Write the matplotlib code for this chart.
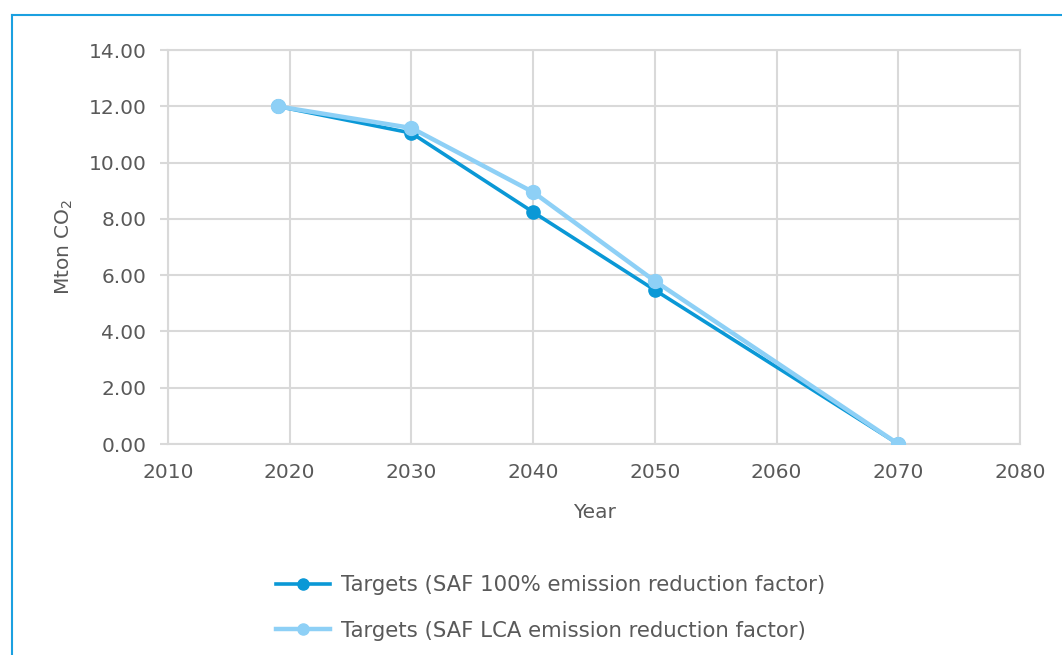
import matplotlib.pyplot as plt
from matplotlib.lines import Line2D

# Dados
anos = [2019, 2030, 2040, 2050, 2070]
saf_100 = [12.0, 11.05, 8.24, 5.47, 0.0]
saf_lca = [12.0, 11.23, 8.95, 5.79, 0.0]

x_ticks = [2010, 2020, 2030, 2040, 2050, 2060, 2070, 2080]
y_ticks = [0, 2, 4, 6, 8, 10, 12, 14]

cor_escura = '#0A98D6'
cor_clara = '#8ED0F6'
cor_texto = '#595959'
cor_grelha = '#D9D9D9'

fig = plt.figure(figsize=(10.62, 6.55), dpi=100)
ax = fig.add_axes([0.1582, 0.3221, 0.8023, 0.6015])

ax.plot(anos, saf_100, color=cor_escura, linewidth=2.6, marker='o', markersize=9.5, zorder=3)
ax.plot(anos, saf_lca, color=cor_clara, linewidth=3.2, marker='o', markersize=10, zorder=4)

ax.set_xlim(2010, 2080)
ax.set_ylim(0, 14)
ax.set_xticks(x_ticks)
ax.set_yticks(y_ticks)
ax.set_yticklabels(['%.2f' % v for v in y_ticks])
ax.grid(True, color=cor_grelha, linewidth=1.5)
ax.set_axisbelow(True)
for s in ax.spines.values():
    s.set_color(cor_grelha)
    s.set_linewidth(1.5)
ax.tick_params(axis='y', length=6, width=1.5, color=cor_grelha, colors=cor_texto, labelsize=14.5, pad=9.5)
ax.tick_params(axis='x', length=0, colors=cor_texto, labelsize=14.5, pad=14)

ax.set_xlabel('Year', color=cor_texto, fontsize=14.5, labelpad=14.5)
ax.set_ylabel('Mton CO$_2$', color=cor_texto, fontsize=14.5, labelpad=10)

# Legenda
handles = [Line2D([], [], color=cor_escura, linewidth=2.6, marker='o', markersize=8),
           Line2D([], [], color=cor_clara, linewidth=3.2, marker='o', markersize=8)]
labels = ['Targets (SAF 100% emission reduction factor)',
          'Targets (SAF LCA emission reduction factor)']
fig.legend(handles, labels, loc='upper left', bbox_to_anchor=(0.250, 0.138), frameon=False,
           fontsize=15.3, labelcolor=cor_texto, handlelength=2.55, handletextpad=0.5,
           labelspacing=1.2, borderpad=0)

# Moldura azul
moldura = '#1BA0E0'
fig.add_artist(Line2D([12 / 1062, 12 / 1062], [0, 1 - 15 / 655], color=moldura, linewidth=1.5, transform=fig.transFigure))
fig.add_artist(Line2D([12 / 1062, 1], [1 - 15 / 655, 1 - 15 / 655], color=moldura, linewidth=1.5, transform=fig.transFigure))

fig.savefig('out.png', dpi=100)
